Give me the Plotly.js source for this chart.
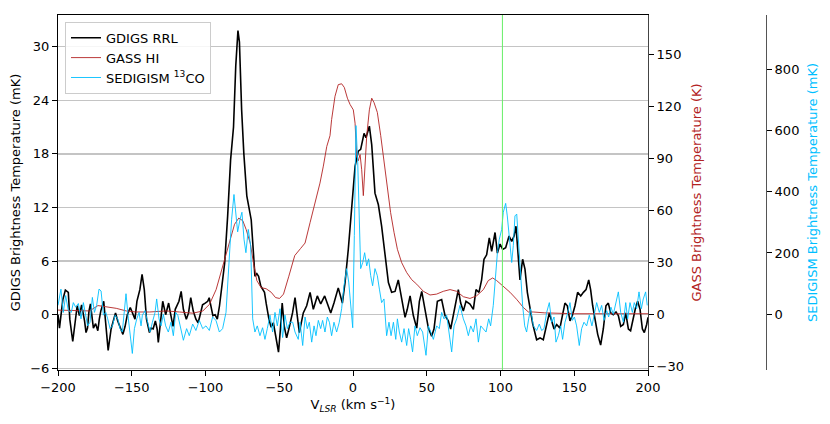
<!DOCTYPE html>
<html>
<head>
<meta charset="utf-8">
<script src="https://cdn.plot.ly/plotly-3.0.1.min.js"></script>
<style>html,body{margin:0;padding:0;background:#fff;}#chart{width:830px;height:424px;}</style>
</head>
<body>
<div id="chart"></div>
<script>
// GDIGS RRL (mK)
const vRRL = [-200,-199,-196.7,-195,-193,-192,-190,-188.5,-187,-185.5,-184,-182,-181,-180,-179,-178,-176,-174.5,-173,-172,-171,-169,-167.5,-166,-164,-162.5,-161,-159.5,-157.5,-156,-154.5,-153,-151,-149,-147.8,-146.5,-144.5,-143,-141.5,-140,-138,-136.8,-135.5,-134,-132.8,-132,-130.5,-129,-127,-125,-123.8,-122,-120.5,-118,-116.5,-115,-113,-111.5,-110,-108.3,-106.5,-105,-103.6,-102,-100.2,-98.5,-97.5,-96.2,-95,-93.5,-92,-90.5,-89,-87,-85,-83,-81,-79.5,-78,-77,-75.5,-74,-72,-70.5,-69,-67.5,-66.5,-65.2,-64,-62.5,-60,-58.8,-57,-55.5,-54,-52.5,-50.5,-49.3,-48,-46.5,-45,-43.5,-41,-39.3,-36.4,-33.7,-31.4,-29.1,-26.9,-24.2,-21.9,-19.2,-17.4,-15.1,-12.9,-10,-7.2,-5.4,-3.2,-0.9,1.4,3.6,5.2,7.5,8.8,11.1,12.7,14.9,17.2,19.4,21.7,24,26.2,28.5,30.7,33,35.3,36.8,38.7,40.9,43.2,45,46.6,48.8,51.1,53.3,54.9,57.2,60.1,62.4,64.6,66.2,68.5,71.4,73,74.8,76.6,79.3,81.6,83.4,85.4,87.2,88.8,90.6,92.4,94,96.3,97.9,99.7,101.5,103.5,105.8,107.6,109.2,110.5,112.1,113.2,115,116.6,118.2,120,121.8,124.5,126.8,129,131.3,133.1,134.7,136.3,138.1,140.3,142.1,143.7,145.3,147.1,148.7,150.5,152.3,154.4,156.2,158,159.8,161.1,162.5,164.1,165.9,167.9,169.7,171.5,173.1,174.7,176.5,178.3,179.9,181.5,183.3,184.9,186.7,188.2,190,191.6,193,194.6,196.2,197.5,199.1,200];
const tRRL = [0,-1.5,1.7,2.75,2.5,-0.5,-3,-0.9,1,-0.1,1.1,-0.7,-2,-1.5,0.4,1.2,-1.5,-1,-1.8,-0.5,0.4,1.5,-1.3,-4,-1.6,-0.7,0.2,-0.7,-1.5,-2.2,-1.3,0,0.8,0,-0.5,1.5,2.8,4.5,2.8,-0.5,-2,-1.5,-1.6,-0.7,-1.6,-3.1,-1.1,1.5,0,1.3,0.2,-1.3,0.6,1.5,2.6,0.6,-0.5,0.2,1.9,0.4,-0.5,-0.9,0,1.1,1.3,1.5,1.9,0.8,-0.1,0,-0.5,1,3.2,5.8,11,17.3,21,27.8,31.8,30.5,22.9,18,13.3,12.1,10.6,6.9,4.3,4.6,4.3,3.2,2.5,1.2,-0.5,-1.4,-0.9,-2.3,-4.2,-1.8,1.3,-1.4,-2.6,-1.6,0.2,1.9,-2,0.2,1,2.5,0.6,2.1,1.2,2.1,1.2,0.2,1.3,3,1.3,3.6,7.3,12.5,16.6,18.3,18.5,20.3,19.8,21.1,19,13.6,12.3,9.9,6.6,3.6,2.5,2.6,3.9,1.7,-0.3,0.6,2.1,-0.1,-1.5,1.5,2.6,0.6,-1.5,-2.4,-1.6,1.5,1.7,-0.1,-0.7,-1.6,0.2,2.8,1.3,0.4,1.5,1.2,0.6,2.8,2.5,3.9,6.2,6.7,8.6,7.1,9.2,6.9,7.9,7.3,7.5,8.8,8.2,8.8,9.9,6.9,3.9,6.2,5.1,2.5,0.6,-1,-2.8,-2.6,-2.8,-1.3,0.2,-0.7,-1.6,-1.1,-1.5,0,1.3,1,-0.7,-0.1,1,2.5,2.1,2.5,2.8,3.9,2.8,1,-0.5,-2.2,-3.4,-1.6,1,1.3,0.2,0,0.3,-0.1,-1.3,-1.1,0.2,-1.6,-1.8,-0.3,0.8,1.5,0.6,-1.6,-2,-1.1,-0.3];

// GASS HI (K)
const vHI = [-200,-187.6,-178.6,-172.9,-167.3,-160.5,-153.7,-146.9,-137.9,-126.6,-117.6,-108.6,-101.8,-97.3,-92.8,-88.3,-83.7,-80.3,-77.4,-74.7,-72.4,-69.7,-67.5,-65.2,-62.3,-58.9,-55.5,-52.5,-49.8,-47.1,-43.5,-39.5,-35.5,-32.5,-29.1,-25.8,-22.4,-20.1,-17.8,-15.6,-14.5,-12.2,-10,-7.7,-5.9,-3.8,-2,0.2,1.4,2.5,3.6,4.8,5.9,7,8.1,9.3,11.1,12.7,14.3,16.5,18.8,21,23.3,25.5,27.8,30.1,33,36.4,39.8,43.2,47.7,52.2,56.7,61.2,65.8,70.3,74.8,79.3,83.8,88.4,91.7,94.7,97.4,101.9,106.4,110.9,115.5,118.9,122.2,130,150,170,200];
const tHI = [2.6,2.1,2.1,5.2,4.6,3.6,2.1,1.5,1.5,2.1,1.5,0.8,2.1,5.9,14.4,27.8,41.2,52,55.6,54,48.9,41.2,29.9,19.6,15.5,14.9,12.9,9.8,9.3,11.8,22.1,34,38.1,41.2,53,64.4,75.7,85.5,96.8,103,112.3,125.7,132.4,132.9,130.8,124.6,121,117.9,110.2,91.2,88.6,92.2,83.4,68.5,83.4,103,117.9,124.6,122,116.4,103,87.6,72.1,58.7,47.4,37.6,29.9,24.2,20.1,17.5,13.4,11.3,11.8,13.4,14.4,13.4,10.3,9.3,10.8,14.4,19.6,21.1,19.6,16.5,12.9,8.8,4.1,1.5,1.5,1,0.5,0.5,0.5];

// SEDIGISM 13CO (mK)
const vCO = [-200,-198,-196.4,-194.8,-193,-191,-189.6,-188,-186.2,-184.4,-182.8,-181.7,-179.9,-178.3,-176.7,-175.3,-173.8,-172.2,-170.8,-169.2,-167.6,-166.3,-164.7,-163.1,-161.3,-159.5,-157.9,-156.4,-155,-153.9,-152.3,-151.2,-149.6,-148.2,-146.6,-145,-143.7,-142.8,-141,-139.2,-137.6,-136,-134.2,-133.1,-131.5,-130.1,-128.6,-127,-125.2,-123.4,-121.8,-120.2,-118.8,-117.3,-115,-112.8,-111,-108.7,-106.5,-104.2,-101.9,-99.7,-97.4,-95.2,-92.9,-90.6,-88.4,-86.1,-83.9,-82.3,-80.7,-79.3,-78.2,-76.6,-75.3,-73.9,-72.6,-71,-69.4,-68,-66.5,-64.9,-63.1,-61.3,-59.7,-58.1,-56.3,-54.5,-52.9,-51.3,-49.5,-47.7,-46.1,-44.5,-42.7,-40.9,-39.3,-37.1,-35.9,-34.1,-32.5,-31,-29.6,-28,-26.4,-25.1,-23.5,-21.9,-20.6,-19,-17.4,-16,-14.5,-12.9,-11.1,-9.3,-7.7,-6.1,-4.3,-2.9,-1.6,-0.2,0.9,2,3.2,4.1,5.2,6.6,7.9,9.3,10.6,12,13.3,14.9,16.5,17.9,19.4,21,22.8,24.4,25.8,27.4,29,30.1,31.4,33,34.6,36.4,37.7,39.1,40.4,42,43.6,45.4,47.2,49.5,51.1,52.7,54.5,56.7,58.5,60.1,61.7,63.5,65.3,66.9,68.5,70.3,72.5,74.8,76.6,78.2,79.8,81.6,83.4,85,86.6,88.4,90.2,92,93.3,95.1,96.5,97.9,99.2,100.8,101.9,103.5,104.6,106,107.6,108.7,109.8,111,112.3,113.7,115,116.4,117.7,119.1,120.4,122.3,124.5,126.3,127.9,129.5,131.3,133.1,134.7,136.3,137.6,139.2,140.8,142.1,143.7,145.3,147.1,148.7,150.1,151.6,153.4,155,156.6,158.4,160.2,162,163.6,165.2,167,168.6,170.2,172,173.3,174.9,176.5,178.3,179.9,181.5,183.3,184.9,186.2,187.8,189.4,190.7,192.3,193.9,195.5,196.8,198.4,199.5];
const tCO = [29,82,6,61,12,6,38,23,35,-15,38,6,-38,-26,55,6,29,82,76,-3,6,-15,-47,-38,-3,-15,-47,-58,6,67,-15,-58,-128,-47,-15,6,-38,-3,12,-26,-58,-26,6,50,-15,-38,0,-38,-58,-26,-70,6,-3,-35,-85,-47,-70,-32,-53,-20,-47,-38,-53,-9,-20,-58,-47,6,181,310,391,310,269,310,333,245,201,277,225,-15,-58,-38,-70,-44,-82,-47,-3,-58,6,-38,18,-76,-3,-47,-26,-26,-58,-82,-26,-102,-9,-47,-26,-91,-38,-70,-20,-47,-20,-58,-9,-26,-70,-26,-58,-26,18,93,149,105,18,-44,257,616,496,310,149,169,201,158,181,126,93,149,126,82,38,50,-70,-26,-70,-26,-82,-15,-58,-91,-47,-102,-47,-82,-123,-38,-70,-44,-58,-134,-38,-58,-82,-38,-47,6,-15,-3,-70,-123,-38,-15,29,-15,-38,-70,-38,-58,-15,-91,-38,-47,-58,-15,-38,29,114,201,245,277,333,362,321,257,169,225,321,327,225,114,29,-38,-58,-15,18,-38,-53,-32,-53,-47,6,38,-26,-9,-91,-70,-38,-82,-26,0,38,-20,-9,-38,-102,-47,-26,-38,-3,-38,-3,38,6,29,-20,12,-9,23,0,35,73,6,-26,38,-15,38,6,38,18,73,18,50,73,29];

// reference velocity marker (km/s)
const markerVel = [101.3];

const xTicks = [-200,-150,-100,-50,0,50,100,150,200];

const font = {family: 'DejaVu Sans, sans-serif', size: 13, color: '#000'};

const traces = [
  {x: vRRL, y: tRRL, type: 'scatter', mode: 'lines', name: 'GDIGS RRL',
   line: {color: '#000000', width: 1.6}, yaxis: 'y', xaxis: 'x'},
  {x: vHI, y: tHI, type: 'scatter', mode: 'lines', name: 'GASS HI',
   line: {color: '#b22222', width: 0.9}, yaxis: 'y2', xaxis: 'x'},
  {x: vCO, y: tCO, type: 'scatter', mode: 'lines', name: 'SEDIGISM <sup>13</sup>CO',
   line: {color: '#00bfff', width: 0.9}, yaxis: 'y3', xaxis: 'x'}
];

const plotL = 58, plotR = 780, xEnd = 648, sedX = 766;
const wPlot = plotR - plotL;

const layout = {
  width: 830, height: 424,
  margin: {l: plotL, r: 830 - plotR, t: 15, b: 54, pad: 0},
  paper_bgcolor: '#fff', plot_bgcolor: '#fff',
  font: font,
  showlegend: true,
  legend: {x: 0.0097, y: 0.981, xanchor: 'left', yanchor: 'top',
           bgcolor: 'rgba(255,255,255,0.85)', bordercolor: '#cccccc', borderwidth: 1,
           font: {family: 'DejaVu Sans, sans-serif', size: 13, color: '#000'}},
  xaxis: {domain: [0, (xEnd - plotL) / wPlot], range: [-200, 200],
          tickvals: xTicks, ticks: 'outside', ticklen: 5, tickcolor: '#000',
          showline: true, linecolor: '#000', linewidth: 1, mirror: true,
          showgrid: false, zeroline: false,
          title: {text: 'V<sub><i>LSR</i></sub> (km s<sup>−1</sup>)', font: font, standoff: 6}},
  yaxis: {range: [-6.19, 33.54], tick0: 0, dtick: 6, ticks: 'outside', ticklen: 5,
          tickcolor: '#000', showline: true, linecolor: '#000', linewidth: 1,
          showgrid: true, gridcolor: '#c4c4c4', gridwidth: 1.3, zeroline: false,
          title: {text: 'GDIGS Brightness Temperature (mK)', font: font, standoff: 6}},
  yaxis2: {overlaying: 'y', side: 'right', anchor: 'x', range: [-31.9, 172.5],
           tick0: 0, dtick: 30, ticks: 'outside', ticklen: 5, tickcolor: '#000',
           showline: true, linecolor: '#444', linewidth: 1, showgrid: false, zeroline: false,
           title: {text: 'GASS Brightness Temperature (K)', font: {family: font.family, size: 13, color: '#b22222'}, standoff: 8}},
  yaxis3: {overlaying: 'y', side: 'right', anchor: 'free', position: (sedX - plotL) / wPlot,
           range: [-182, 977], tick0: 0, dtick: 200, ticks: 'outside', ticklen: 5, tickcolor: '#000',
           showline: true, linecolor: '#555', linewidth: 1, showgrid: false, zeroline: false,
           title: {text: 'SEDIGISM Brightness Temperature (mK)', font: {family: font.family, size: 13, color: '#00bfff'}, standoff: 9}},
  shapes: markerVel.map(v => ({type: 'line', xref: 'x', yref: 'paper', x0: v, x1: v, y0: 0, y1: 1,
                               line: {color: '#66ee66', width: 1}, layer: 'above'}))
};

Plotly.newPlot('chart', traces, layout, {displayModeBar: false, staticPlot: true});
</script>
</body>
</html>
